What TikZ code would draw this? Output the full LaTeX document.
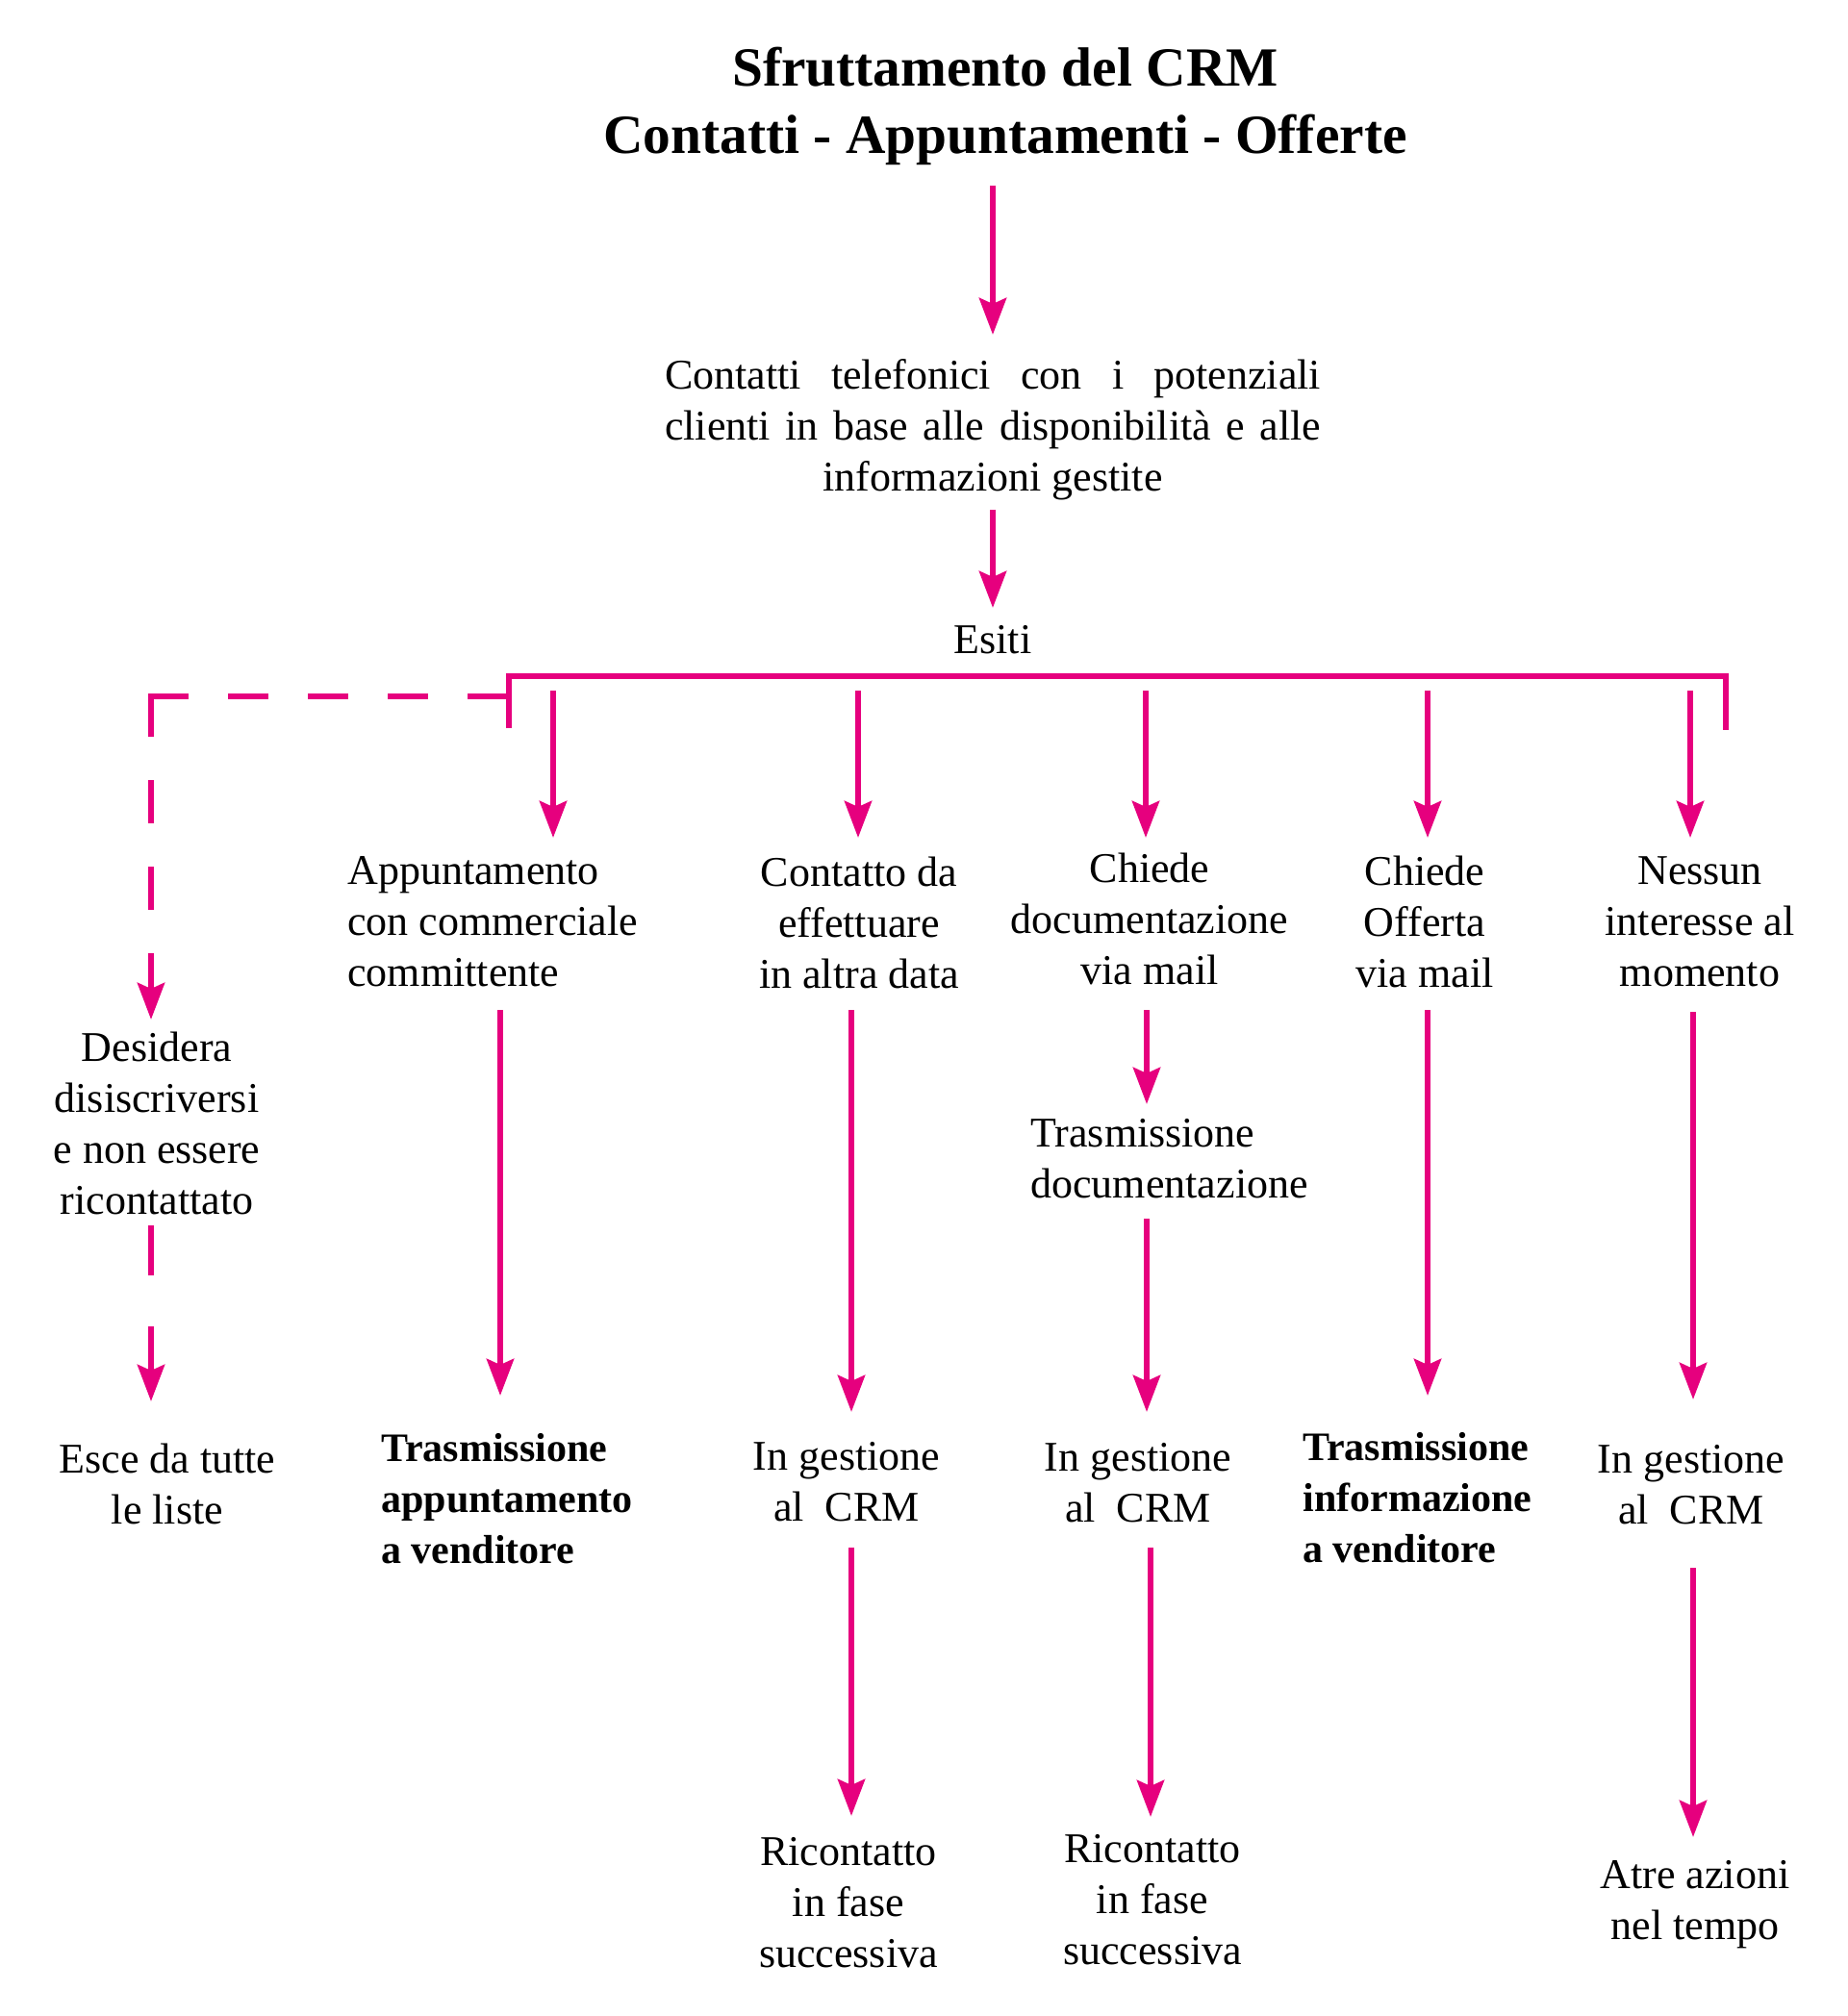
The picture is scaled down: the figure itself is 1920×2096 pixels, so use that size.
\documentclass[tikz,border=0pt]{standalone}
\usepackage{fontspec}
\setmainfont{Liberation Serif}
\usetikzlibrary{arrows.meta}
\definecolor{crmmag}{HTML}{E6007E}
\begin{document}
\begin{tikzpicture}[x=0.5pt,y=-0.5pt,
  txt/.style={inner sep=0pt,align=center,font=\fontsize{22pt}{26.5pt}\selectfont},
  txtl/.style={inner sep=0pt,align=left,anchor=west,font=\fontsize{22pt}{26.5pt}\selectfont},
  boldl/.style={inner sep=0pt,align=left,anchor=west,font=\fontsize{21pt}{26.5pt}\selectfont\bfseries},
  ttl/.style={inner sep=0pt,align=center,font=\fontsize{28.7pt}{35pt}\selectfont\bfseries},
  link/.style={draw=crmmag,line width=3.2pt},
  arr/.style={link,-{Stealth[length=19pt,width=14pt,inset=3pt]}},
  dashh/.style={link,dash pattern=on 21pt off 20.5pt},
  dashv/.style={arr,dash pattern=on 22.5pt off 22.5pt},
  dashv2/.style={arr,dash pattern=on 26pt off 26.5pt on 200pt}]
\useasboundingbox (0,0) rectangle (1920,2096);

% texts
\node[ttl] (title) at (1045,110) {Sfruttamento del CRM\\Contatti - Appuntamenti - Offerte};
\node[txt] (contatti) at (1032,447) {\makebox[341pt][s]{Contatti telefonici con i potenziali}\\\makebox[341pt][s]{clienti in base alle disponibilità e alle}\\informazioni gestite};
\node[txt] (esiti) at (1032,665) {Esiti};

\node[txt] (desidera) at (163,1168) {Desidera\\disiscriversi\\e non essere\\ricontattato};
\node[txt] (esce) at (174,1543) {Esce da tutte\\le liste};

\node[txtl] (appunt) at (361,958) {Appuntamento\\con commerciale\\committente};
\node[txt] (contatto) at (893,959) {Contatto da\\effettuare\\in altra data};
\node[txt] (chiedeDoc) at (1195,955) {Chiede\\documentazione\\via mail};
\node[txt] (chiedeOff) at (1481,958) {Chiede\\Offerta\\via mail};
\node[txt] (nessun) at (1767,958) {Nessun\\interesse al\\momento};

\node[txtl] (trasDoc) at (1071,1205) {Trasmissione\\documentazione};

\node[boldl] (trasApp) at (396,1558) {Trasmissione\\appuntamento\\a venditore};
\node[txt] (gest1) at (880,1541) {In gestione\\al~ CRM};
\node[txt] (gest2) at (1183,1542) {In gestione\\al~ CRM};
\node[boldl] (trasInf) at (1354,1557) {Trasmissione\\informazione\\a venditore};
\node[txt] (gest3) at (1758,1544) {In gestione\\al~ CRM};

\node[txt] (ric1) at (882,1978) {Ricontatto\\in fase\\successiva};
\node[txt] (ric2) at (1198,1975) {Ricontatto\\in fase\\successiva};
\node[txt] (atre) at (1762,1980) {Atre azioni\\nel tempo};

% connector end points
\coordinate (t0) at (1032,193);  \coordinate (h0) at (1032,348);
\coordinate (t1) at (1032,530);  \coordinate (h1) at (1032,632);
\coordinate (barL) at (529,757); \coordinate (barLt) at (529,703);
\coordinate (barR) at (1794,759); \coordinate (barRt) at (1794,703);
\coordinate (dStart) at (533,724); \coordinate (dCorner) at (154,724);
\coordinate (dTop) at (157,721); \coordinate (dTip) at (157,1060);
\coordinate (d2Top) at (157,1274); \coordinate (d2Tip) at (157,1457);
\coordinate (c1s) at (575,718);  \coordinate (c1e) at (575,871);
\coordinate (c2s) at (892,718);  \coordinate (c2e) at (892,871);
\coordinate (c3s) at (1191,718); \coordinate (c3e) at (1191,871);
\coordinate (c4s) at (1484,718); \coordinate (c4e) at (1484,871);
\coordinate (c5s) at (1757,718); \coordinate (c5e) at (1757,871);
\coordinate (l1s) at (520,1050);  \coordinate (l1e) at (520,1451);
\coordinate (l2s) at (885,1050);  \coordinate (l2e) at (885,1468);
\coordinate (l3s) at (1192,1050); \coordinate (l3e) at (1192,1148);
\coordinate (l3bs) at (1192,1267); \coordinate (l3be) at (1192,1468);
\coordinate (l4s) at (1484,1050); \coordinate (l4e) at (1484,1451);
\coordinate (l5s) at (1760,1052); \coordinate (l5e) at (1760,1455);
\coordinate (m2s) at (885,1609);  \coordinate (m2e) at (885,1888);
\coordinate (m3s) at (1196,1609); \coordinate (m3e) at (1196,1889);
\coordinate (m5s) at (1760,1630); \coordinate (m5e) at (1760,1910);

% connectors
\draw[arr] (t0) -- (h0);
\draw[arr] (t1) -- (h1);
\draw[link] (barL) -- (barLt) -- (barRt) -- (barR);
\draw[dashh] (dCorner) -- (dStart);
\draw[dashv] (dTop) -- (dTip);
\draw[dashv2] (d2Top) -- (d2Tip);
\draw[arr] (c1s) -- (c1e);
\draw[arr] (c2s) -- (c2e);
\draw[arr] (c3s) -- (c3e);
\draw[arr] (c4s) -- (c4e);
\draw[arr] (c5s) -- (c5e);
\draw[arr] (l1s) -- (l1e);
\draw[arr] (l2s) -- (l2e);
\draw[arr] (l3s) -- (l3e);
\draw[arr] (l3bs) -- (l3be);
\draw[arr] (l4s) -- (l4e);
\draw[arr] (l5s) -- (l5e);
\draw[arr] (m2s) -- (m2e);
\draw[arr] (m3s) -- (m3e);
\draw[arr] (m5s) -- (m5e);
\end{tikzpicture}
\end{document}
